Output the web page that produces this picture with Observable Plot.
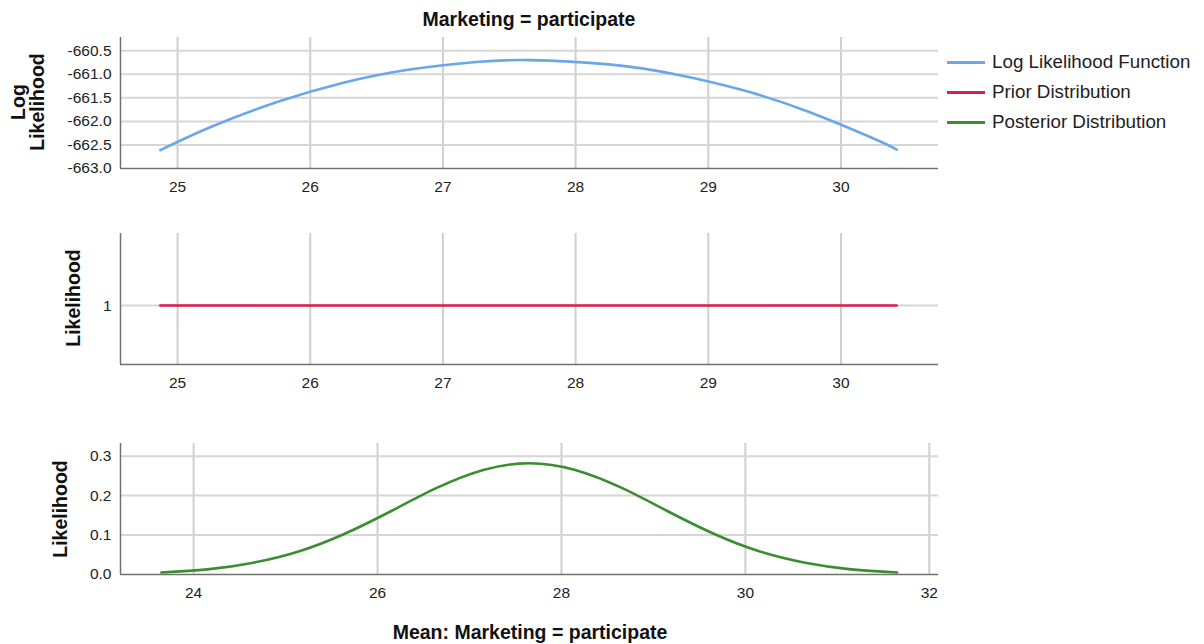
<!DOCTYPE html>
<html>
<head>
<meta charset="utf-8">
<script src="https://cdn.jsdelivr.net/npm/d3@7"></script>
<script src="https://cdn.jsdelivr.net/npm/@observablehq/plot@0.6"></script>
<style>
  html, body { margin: 0; padding: 0; background: #fff; }
  #chart { position: relative; width: 1204px; height: 644px; font-family: "Liberation Sans", Arial, sans-serif; color: #111; overflow: hidden; }
  #chart svg.plot { position: absolute; left: 0; }
  .ttl { position: absolute; font-weight: bold; white-space: nowrap; transform: translate(-50%, -50%); }
  .ytitle { position: absolute; font-weight: bold; white-space: nowrap; text-align: center; transform: translate(-50%, -50%) rotate(-90deg); }
  .legend { position: absolute; left: 947px; top: 0; }
  .legend .item { position: absolute; left: 0; white-space: nowrap; display: flex; align-items: center; }
  .legend .swatch { width: 38px; height: 3px; margin-right: 7px; }
  .legend .lab { font-size: 18.8px; color: #222; }
</style>
</head>
<body>
<div id="chart"></div>
<script>
// ---- data ----
const chartTitle = "Marketing = participate";
const xTitle = "Mean: Marketing = participate";

// Log likelihood of the mean
const logLikMean = [24.87, 25.25, 25.75, 26.25, 26.75, 27.25, 27.65, 28.25, 28.75, 29.25, 29.75, 30.25, 30.42];
const logLikValue = [-662.61, -662.12, -661.59, -661.18, -660.90, -660.74, -660.70, -660.79, -661.00, -661.33, -661.79, -662.37, -662.60];

// Flat prior
const priorMean = [24.87, 30.42];
const priorValue = [1, 1];

// Posterior density of the mean
const postMean = [23.65, 24.15, 24.65, 25.15, 25.65, 26.15, 26.65, 27.15, 27.65, 28.15, 28.65, 29.15, 29.65, 30.15, 30.65, 31.15, 31.65];
const postValue = [0.005, 0.013, 0.030, 0.059, 0.104, 0.161, 0.220, 0.265, 0.282, 0.265, 0.220, 0.161, 0.104, 0.059, 0.030, 0.013, 0.005];

// Ticks
const topXTicks = [25, 26, 27, 28, 29, 30];
const topYTicks = [-663.0, -662.5, -662.0, -661.5, -661.0, -660.5];
const midXTicks = [25, 26, 27, 28, 29, 30];
const midYTicks = [1];
const botXTicks = [24, 26, 28, 30, 32];
const botYTicks = [0.0, 0.1, 0.2, 0.3];

const seriesNames = ["Log Likelihood Function", "Prior Distribution", "Posterior Distribution"];
const seriesColors = ["#6aa6ea", "#dc1c4c", "#3a8e2f"];

// ---- layout ----
const W = 1204;
const plotLeft = 120, plotRight = 938;
const padTop = 20, padBottom = 40;

const chart = document.getElementById("chart");

function panel({top, bottom, xDomain, xTicks, yDomain, yTicks, yFormat, xs, ys, color}) {
  const rows = xs.map((x, i) => ({x, y: ys[i]}));
  const gridY = yTicks.filter(t => t !== yDomain[0]);
  const svg = Plot.plot({
    width: W,
    height: padTop + (bottom - top) + padBottom,
    marginLeft: plotLeft,
    marginRight: W - plotRight,
    marginTop: padTop,
    marginBottom: padBottom,
    x: {domain: xDomain},
    y: {domain: yDomain},
    style: {fontFamily: "'Liberation Sans', Arial, sans-serif", fontSize: "15.5px", color: "#222", background: "transparent", overflow: "visible"},
    marks: [
      Plot.ruleX(xTicks, {stroke: "#cfcfcf", strokeWidth: 2}),
      Plot.ruleY(gridY, {stroke: "#d6d6d6", strokeWidth: 2}),
      Plot.axisX({ticks: xTicks, tickSize: 0, tickPadding: 12, tickFormat: d => String(d), label: null}),
      Plot.axisY({ticks: yTicks, tickSize: 0, tickPadding: 9, tickFormat: yFormat, label: null}),
      Plot.ruleY([yDomain[0]], {stroke: "#707070", strokeWidth: 1.5}),
      Plot.ruleX([xDomain[0]], {stroke: "#707070", strokeWidth: 1.5}),
      Plot.line(rows, {x: "x", y: "y", stroke: color, strokeWidth: 2.6, curve: "natural"})
    ]
  });
  svg.classList.add("plot");
  svg.style.top = (top - padTop) + "px";
  chart.appendChild(svg);
}

panel({top: 37, bottom: 168, xDomain: [24.57, 30.735], xTicks: topXTicks,
  yDomain: [-663.0, -660.22], yTicks: topYTicks, yFormat: d => d.toFixed(1),
  xs: logLikMean, ys: logLikValue, color: seriesColors[0]});

panel({top: 233, bottom: 364, xDomain: [24.57, 30.735], xTicks: midXTicks,
  yDomain: [0.55, 1.55], yTicks: midYTicks, yFormat: d => String(d),
  xs: priorMean, ys: priorValue, color: seriesColors[1]});

panel({top: 443, bottom: 574, xDomain: [23.205, 32.1], xTicks: botXTicks,
  yDomain: [0, 0.332], yTicks: botYTicks, yFormat: d => d.toFixed(1),
  xs: postMean, ys: postValue, color: seriesColors[2]});

// ---- titles ----
function addText(cls, html, x, y, size) {
  const d = document.createElement("div");
  d.className = cls;
  d.innerHTML = html;
  d.style.left = x + "px";
  d.style.top = y + "px";
  d.style.fontSize = size + "px";
  chart.appendChild(d);
  return d;
}
addText("ttl", chartTitle, 529, 19, 19.5);
addText("ttl", xTitle, 530, 632, 19.5);
const t1 = addText("ytitle", "Log<br>Likelihood", 28, 102, 19.5);
t1.style.lineHeight = "19px";
addText("ytitle", "Likelihood", 73, 298, 19.5);
addText("ytitle", "Likelihood", 60, 509, 19.5);

// ---- legend ----
const legend = document.createElement("div");
legend.className = "legend";
seriesNames.forEach((name, i) => {
  const it = document.createElement("div");
  it.className = "item";
  it.style.top = (51 + i * 30) + "px";
  it.style.height = "22px";
  it.innerHTML = `<div class="swatch" style="background:${seriesColors[i]}"></div><span class="lab">${name}</span>`;
  legend.appendChild(it);
});
chart.appendChild(legend);
</script>
</body>
</html>
